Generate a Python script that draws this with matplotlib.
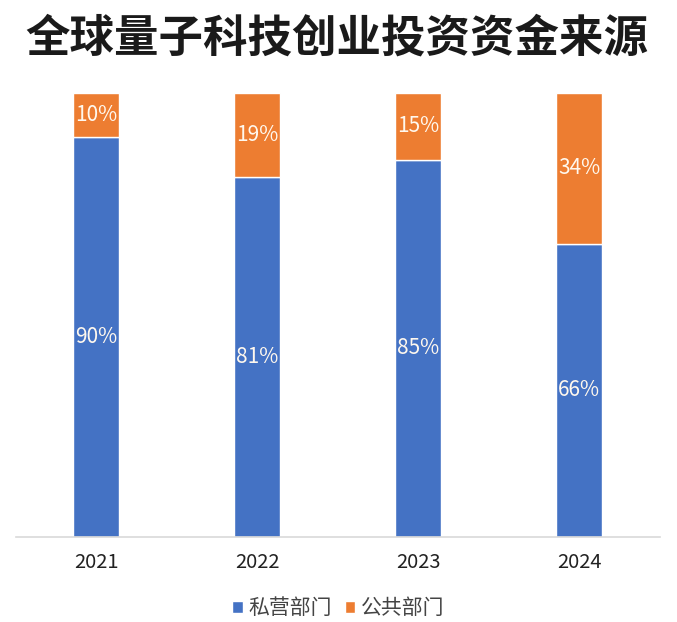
import matplotlib
matplotlib.use("Agg")
import matplotlib.pyplot as plt
import numpy as np

plt.rcParams['font.family'] = ['Noto Sans CJK SC', 'DejaVu Sans']

# data
years = ["2021", "2022", "2023", "2024"]
private_share = [90, 81, 85, 66]   # 私营部门
public_share = [10, 19, 15, 34]    # 公共部门
series_names = ["私营部门", "公共部门"]

blue = "#4472C4"
orange = "#ED7D31"

fig = plt.figure(figsize=(6.77, 6.22), dpi=100)
ax = fig.add_axes([15.5 / 677, 85 / 622, 644 / 677, 444 / 622])

x = np.arange(len(years))
width = 0.28
b1 = ax.bar(x, private_share, width, color=blue, edgecolor="white", linewidth=1,
            label=series_names[0])
b2 = ax.bar(x, public_share, width, bottom=private_share, color=orange,
            edgecolor="white", linewidth=1, label=series_names[1])

for bars, vals, bottoms in [(b1, private_share, [0] * 4), (b2, public_share, private_share)]:
    for rect, v, b in zip(bars, vals, bottoms):
        ax.text(rect.get_x() + rect.get_width() / 2, b + v / 2, f"{v}%",
                ha="center", va="center", color="#FFF8EE", fontsize=15)

ax.set_xlim(-0.5, 3.5)
ax.set_ylim(0, 100)
ax.set_xticks(x)
ax.set_xticklabels(years, fontsize=14.5, color="#222222")
ax.set_yticks([])
for side in ["top", "right", "left"]:
    ax.spines[side].set_visible(False)
ax.spines["bottom"].set_color("#D9D9D9")
ax.spines["bottom"].set_linewidth(1.2)
ax.tick_params(axis="x", length=0, pad=11)

fig.text(0.497, 0.938, "全球量子科技创业投资资金来源", ha="center", va="center",
         fontsize=32, fontweight="bold", color="#1a1a1a")

fig.legend(handles=[b1, b2], labels=series_names, loc="center",
           bbox_to_anchor=(0.5, 0.022), ncol=2, frameon=False, fontsize=15,
           handlelength=0.5, handleheight=0.5, handletextpad=0.3, columnspacing=0.6,
           labelcolor="#444444")

fig.savefig("out.png", dpi=100)
